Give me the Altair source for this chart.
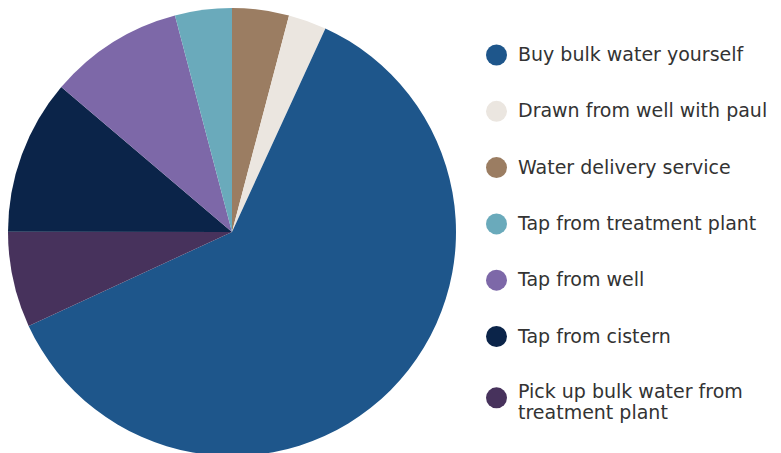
import altair as alt
import pandas as pd

# Slice order (clockwise from 12 o'clock)
categories = [
    "Water delivery service",
    "Drawn from well with paul",
    "Buy bulk water yourself",
    "Pick up bulk water from treatment plant",
    "Tap from cistern",
    "Tap from well",
    "Tap from treatment plant",
]
values = [4.1, 2.75, 61.3, 6.9, 11.2, 9.7, 4.1]

legend_order = [
    "Buy bulk water yourself",
    "Drawn from well with paul",
    "Water delivery service",
    "Tap from treatment plant",
    "Tap from well",
    "Tap from cistern",
    "Pick up bulk water from treatment plant",
]
legend_colors = ["#1e568b", "#ebe6e0", "#9b7d62", "#6aaabb", "#7d68a8", "#0b2449", "#47325c"]

df = pd.DataFrame({"category": categories, "value": values, "idx": list(range(len(categories)))})

long_label = "Pick up bulk water from treatment plant"

chart = alt.Chart(df).mark_arc(outerRadius=224).encode(
    theta=alt.Theta("value:Q", stack=True),
    order=alt.Order("idx:Q", sort="ascending"),
    color=alt.Color(
        "category:N",
        scale=alt.Scale(domain=legend_order, range=legend_colors),
        legend=alt.Legend(
            title=None,
            orient="none",
            legendX=486,
            legendY=44.5,
            symbolType="circle",
            symbolSize=441,
            symbolStrokeWidth=0,
            labelFont="DejaVu Sans",
            labelFontSize=19,
            labelColor="#333333",
            labelLimit=400,
            labelOffset=11,
            rowPadding=35.3,
            labelBaseline=alt.ExprRef(f"datum.label == '{long_label}' ? 'alphabetic' : 'middle'"),
            labelExpr=f"datum.label == '{long_label}' ? ['Pick up bulk water from', 'treatment plant'] : datum.label",
        ),
    ),
).properties(
    width=464, height=464, padding=0
).configure_view(stroke=None)

chart.save("out.html", embed_options={"renderer": "svg", "actions": False})
